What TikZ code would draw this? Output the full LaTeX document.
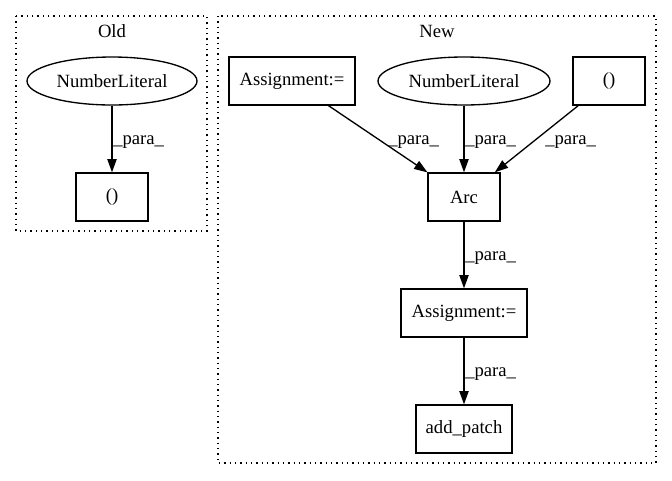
\documentclass[tikz,border=0pt]{standalone}
\usepackage{fontspec}
\setmainfont{Liberation Serif}
\usetikzlibrary{arrows.meta,shapes.geometric}
\begin{document}
\begin{tikzpicture}[x=0.75pt,y=-0.75pt,
  every node/.style={font=\fontsize{14}{16}\selectfont},
  boxnode/.style={draw,line width=1pt,rectangle,minimum height=36pt,inner sep=0pt},
  ellnode/.style={draw,line width=1pt,ellipse,minimum height=36pt,inner sep=0pt},
  cluster/.style={draw,line width=1pt,dash pattern=on 1pt off 3pt},
  edgeline/.style={line width=1pt,-{Triangle[length=10pt,width=7pt]}},
  elabel/.style={anchor=base west,inner sep=0pt},
  clabel/.style={anchor=base,inner sep=0pt}]
\useasboundingbox (0,0) rectangle (672,480);
% clusters
\draw[cluster] (16,16) rectangle (207,231);
\draw[cluster] (218,16) rectangle (656,463);
\node[clabel] (oldlbl) at (112,37) {Old};
\node[clabel] (newlbl) at (437,37) {New};
% Old nodes
\node[ellnode,minimum width=127.5pt] (onl) at (112,81) {NumberLiteral};
\node[boxnode,minimum width=54pt] (ob) at (112,197) {()};
% New nodes
\node[boxnode,minimum width=94.5pt] (asg1) at (292,81) {Assignment:=};
\node[ellnode,minimum width=129pt] (nnl) at (464,81) {NumberLiteral};
\node[boxnode,minimum width=54pt] (nb) at (609,81) {()};
\node[boxnode,minimum width=54pt] (arc) at (464,197) {Arc};
\node[boxnode,minimum width=94.5pt] (asg2) at (464,313) {Assignment:=};
\node[boxnode,minimum width=72pt] (addp) at (464,429) {add\_patch};
% edges
\draw[edgeline] (onl) -- (ob);
\draw[edgeline] (asg1) -- (arc);
\draw[edgeline] (nnl) -- (arc);
\draw[edgeline] (nb) -- (arc);
\draw[edgeline] (arc) -- (asg2);
\draw[edgeline] (asg2) -- (addp);
% edge labels
\node[elabel] (l0) at (113,144) {\_para\_};
\node[elabel] (l1) at (388,144) {\_para\_};
\node[elabel] (l2) at (465,144) {\_para\_};
\node[elabel] (l3) at (545,144) {\_para\_};
\node[elabel] (l4) at (465,260) {\_para\_};
\node[elabel] (l5) at (465,376) {\_para\_};
\end{tikzpicture}
\end{document}
